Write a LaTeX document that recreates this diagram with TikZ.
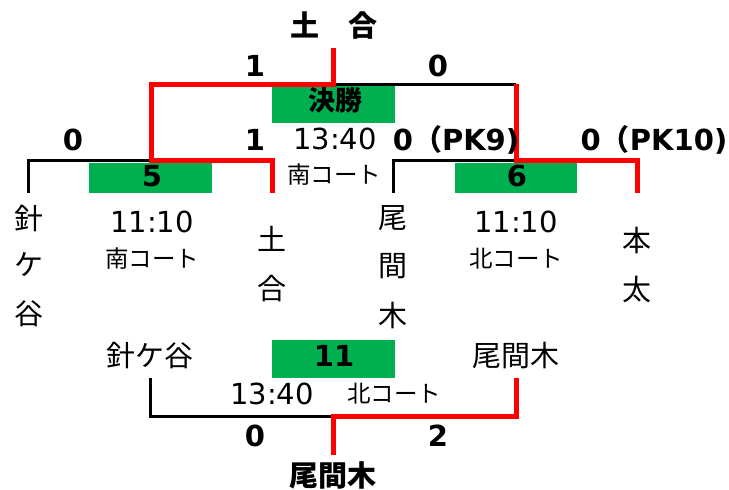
\documentclass[tikz,border=0pt]{standalone}
\usepackage{fontspec}
\newfontfamily\jp{Noto Sans CJK JP}
\newfontfamily\dv{DejaVu Sans}
\definecolor{exgreen}{RGB}{0,176,80}
\definecolor{exred}{RGB}{255,0,0}
\begin{document}
\begin{tikzpicture}[x=1pt,y=-1pt,
  redline/.style={exred,line width=5pt},
  blackline/.style={black,line width=3pt},
  gbox/.style={fill=exgreen,draw=none,inner sep=0pt,anchor=north west},
  txt/.style={inner sep=0pt,anchor=base},
  bnum/.style={txt,font=\dv\bfseries\fontsize{29}{34}\selectfont},
  rnum/.style={txt,font=\dv\fontsize{29}{34}\selectfont},
  court/.style={txt,font=\jp\fontsize{23.5}{28}\selectfont},
  team/.style={txt,font=\jp\fontsize{29}{34}\selectfont},
  bteam/.style={txt,font=\jp\bfseries\fontsize{29}{34}\selectfont}
]
\useasboundingbox (0,0) rectangle (729,490);

% green boxes
\node[gbox,minimum width=123pt,minimum height=30pt] (b5) at (89,163) {};
\node[gbox,minimum width=123pt,minimum height=37pt] (bf) at (272,86) {};
\node[gbox,minimum width=122pt,minimum height=30pt] (b6) at (455,163) {};
\node[gbox,minimum width=123pt,minimum height=38pt] (b11) at (272,340) {};

% coordinates of the bracket
\coordinate (top) at (333,48);
\coordinate (fm) at (333,84);
\coordinate (fl) at (151,84);
\coordinate (fr) at (516,84);
\coordinate (sl) at (151,160);
\coordinate (sr) at (516,160);
\coordinate (a1) at (28,160);
\coordinate (a0) at (28,193);
\coordinate (b1) at (272,160);
\coordinate (b0) at (272,193);
\coordinate (c1) at (393,160);
\coordinate (c0) at (393,193);
\coordinate (d1) at (637,160);
\coordinate (d0) at (637,193);
\coordinate (e0) at (150,378);
\coordinate (e1) at (150,416);
\coordinate (tm) at (333,416);
\coordinate (tb) at (333,455);
\coordinate (f1) at (516,416);
\coordinate (f0) at (516,378);

% black lines
\draw[blackline] (a0) -- (a1) -- (sl);
\draw[blackline] (fm) -- (fr);
\draw[blackline] (c0) -- (c1) -- (sr);
\draw[blackline] (e0) -- (e1) -- (tm);

% red lines
\draw[redline] (top) -- (fm) -- (fl) -- (sl) -- (b1) -- (b0);
\draw[redline] (fr) -- (sr) -- (d1) -- (d0);
\draw[redline] (f0) -- (f1) -- (tm) -- (tb);

% top
\node[bteam] (champ) at (334,36) {土　合};
\node[bnum] (s1) at (255,76) {1};
\node[bnum] (s2) at (438,76) {0};
\node[txt,font=\jp\bfseries\fontsize{27}{32}\selectfont] (final) at (335,110) {決勝};
\node[rnum] (ft) at (335,149) {13:40};
\node[court] (fc) at (334,183) {南コート};

% semifinal scores
\node[bnum] (s3) at (73,150) {0};
\node[bnum] (s4) at (255,150) {1};
\node[bnum] (s5) at (456,150) {0{\jp\bfseries （}PK9)};
\node[bnum] (s6) at (654,150) {0{\jp\bfseries （}PK10)};

\node[bnum] (n5) at (152,186) {5};
\node[bnum] (n6) at (517,186) {6};

\node[rnum] (t5) at (152,232) {11:10};
\node[court] (c5) at (152,267) {南コート};
\node[rnum] (t6) at (516,232) {11:10};
\node[court] (c6) at (516,267) {北コート};

% vertical team names
\node[team] (h1) at (29,229) {針};
\node[team] (h2) at (29,275) {ケ};
\node[team] (h3) at (29,324) {谷};
\node[team] (d1n) at (272,250) {土};
\node[team] (d2n) at (272,299) {合};
\node[team] (o1) at (393,228) {尾};
\node[team] (o2) at (393,276) {間};
\node[team] (o3) at (393,326) {木};
\node[team] (m1) at (637,251) {本};
\node[team] (m2) at (637,300) {太};

% third place match
\node[team] (hg) at (150,366) {針ケ谷};
\node[team] (om) at (516,366) {尾間木};
\node[bnum] (n11) at (334,366) {11};
\node[rnum] (t11) at (272,404) {13:40};
\node[court] (c11) at (394,402) {北コート};
\node[bnum] (s7) at (255,446) {0};
\node[bnum] (s8) at (438,446) {2};
\node[bteam] (win) at (333,486) {尾間木};
\end{tikzpicture}
\end{document}
